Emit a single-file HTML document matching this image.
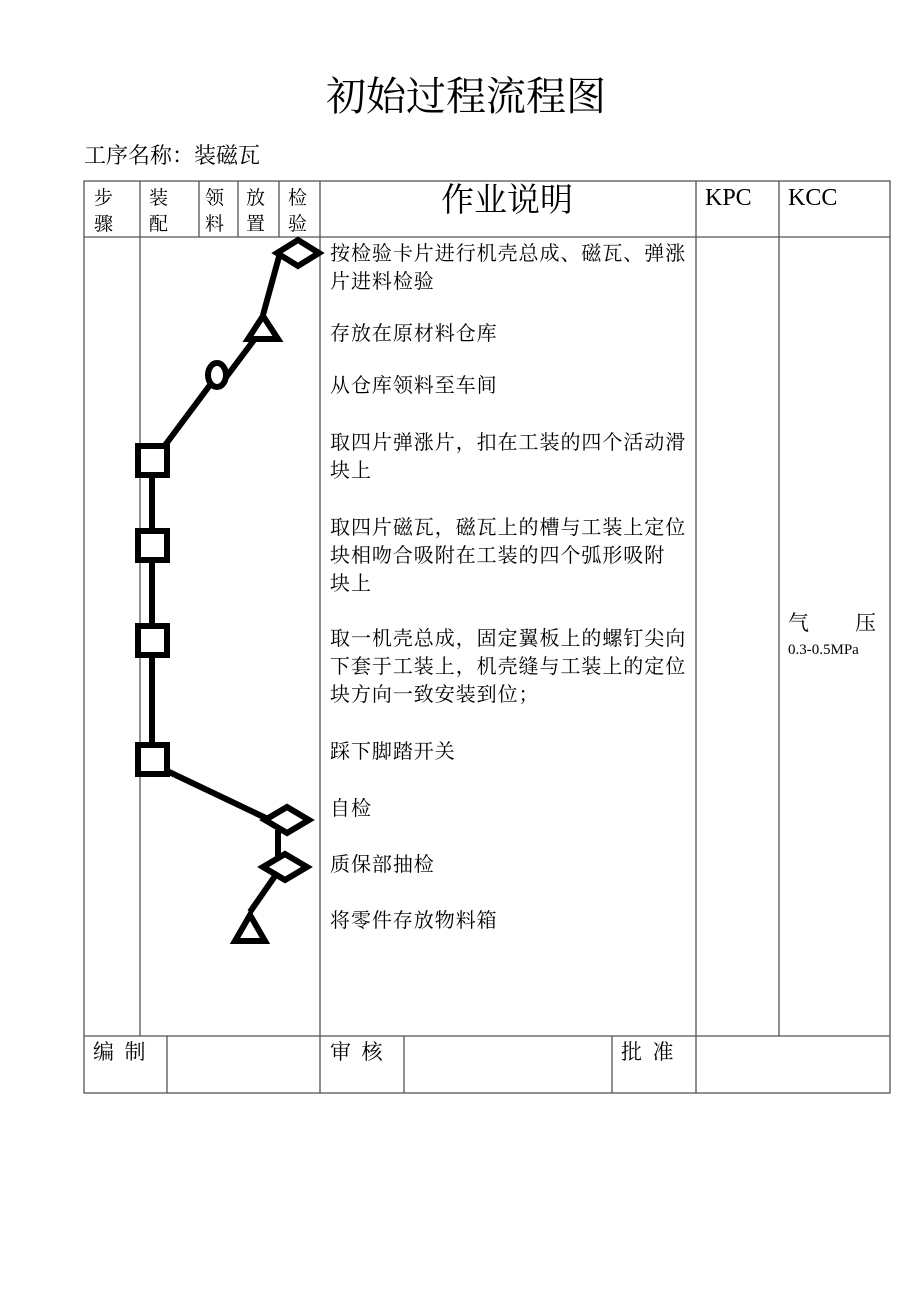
<!DOCTYPE html>
<html><head><meta charset="utf-8"><style>
body{margin:0;background:#fff;width:920px;height:1301px;position:relative;overflow:hidden;font-family:"Liberation Serif","Noto Serif CJK SC","Noto Sans CJK SC",serif;color:#000}
.t{position:absolute;white-space:nowrap;line-height:1}
.b{font-size:20px;letter-spacing:0.95px;line-height:28px}
</style></head><body>
<div class="t" style="left:326px;top:77px;font-size:40px">初始过程流程图</div>
<div class="t" style="left:84px;top:145px;font-size:22px">工序名称：装磁瓦</div>
<svg width="920" height="1301" style="position:absolute;left:0;top:0">
<g stroke="#555" stroke-width="1.3" fill="none">
<rect x="84" y="181" width="806" height="912"/>
<line x1="84" y1="237" x2="890" y2="237"/>
<line x1="84" y1="1036" x2="890" y2="1036"/>
<line x1="140" y1="181" x2="140" y2="1036"/>
<line x1="199" y1="181" x2="199" y2="237"/>
<line x1="238" y1="181" x2="238" y2="237"/>
<line x1="279" y1="181" x2="279" y2="237"/>
<line x1="320" y1="181" x2="320" y2="1093"/>
<line x1="696" y1="181" x2="696" y2="1093"/>
<line x1="779" y1="181" x2="779" y2="1036"/>
<line x1="167" y1="1036" x2="167" y2="1093"/>
<line x1="404" y1="1036" x2="404" y2="1093"/>
<line x1="612" y1="1036" x2="612" y2="1093"/>
</g>
<g stroke="#000" stroke-width="6" fill="none" stroke-linejoin="miter">
<polyline points="280,253 263,315"/>
<line x1="254" y1="340" x2="224" y2="380"/>
<line x1="210" y1="385" x2="160" y2="452"/>
<line x1="152" y1="460" x2="152" y2="760"/>
<line x1="165" y1="770" x2="270" y2="820"/>
<line x1="278" y1="830" x2="278" y2="860"/>
<line x1="275" y1="876" x2="250" y2="912"/>
<polygon points="277,253 298,240 319,253 298,266" fill="#fff"/>
<polygon points="263,316 278,339 248,339" fill="#fff"/>
<ellipse cx="217" cy="375" rx="9" ry="12" fill="#fff"/>
<rect x="138" y="446" width="29" height="29" fill="#fff"/>
<rect x="138" y="531" width="29" height="29" fill="#fff"/>
<rect x="138" y="626" width="29" height="29" fill="#fff"/>
<rect x="138" y="745" width="29" height="29" fill="#fff"/>
<polygon points="265,820 287,807 309,820 287,833" fill="#fff"/>
<polygon points="263,867 285,854 307,867 285,880" fill="#fff"/>
<polygon points="250,915 265,941 235,941" fill="#fff"/>
</g>
</svg>
<div class="t" style="left:94px;top:186px;font-size:19px;line-height:26px">步<br>骤</div>
<div class="t" style="left:149px;top:186px;font-size:19px;line-height:26px">装<br>配</div>
<div class="t" style="left:205px;top:186px;font-size:19px;line-height:26px">领<br>料</div>
<div class="t" style="left:246px;top:186px;font-size:19px;line-height:26px">放<br>置</div>
<div class="t" style="left:288px;top:186px;font-size:19px;line-height:26px">检<br>验</div>
<div class="t" style="left:441px;top:185px;font-size:33px">作业说明</div>
<div class="t" style="left:705px;top:186px;font-size:24px">KPC</div>
<div class="t" style="left:788px;top:186px;font-size:24px">KCC</div>
<div class="t b" style="left:330px;top:240px">按检验卡片进行机壳总成、磁瓦、弹涨<br>片进料检验</div>
<div class="t b" style="left:330px;top:320px">存放在原材料仓库</div>
<div class="t b" style="left:330px;top:372px">从仓库领料至车间</div>
<div class="t b" style="left:330px;top:429px">取四片弹涨片，扣在工装的四个活动滑<br>块上</div>
<div class="t b" style="left:330px;top:514px">取四片磁瓦，磁瓦上的槽与工装上定位<br>块相吻合吸附在工装的四个弧形吸附<br>块上</div>
<div class="t b" style="left:330px;top:625px">取一机壳总成，固定翼板上的螺钉尖向<br>下套于工装上，机壳缝与工装上的定位<br>块方向一致安装到位；</div>
<div class="t b" style="left:330px;top:738px">踩下脚踏开关</div>
<div class="t b" style="left:330px;top:795px">自检</div>
<div class="t b" style="left:330px;top:851px">质保部抽检</div>
<div class="t b" style="left:330px;top:907px">将零件存放物料箱</div>
<div class="t" style="left:788px;top:613px;font-size:21px;width:88px;display:flex;justify-content:space-between"><span>气</span><span>压</span></div>
<div class="t" style="left:788px;top:643px;font-size:15px">0.3-0.5MPa</div>
<div class="t" style="left:93px;top:1042px;font-size:21px">编&nbsp;&nbsp;制</div>
<div class="t" style="left:330px;top:1042px;font-size:21px">审&nbsp;&nbsp;核</div>
<div class="t" style="left:621px;top:1042px;font-size:21px">批&nbsp;&nbsp;准</div>
</body></html>
